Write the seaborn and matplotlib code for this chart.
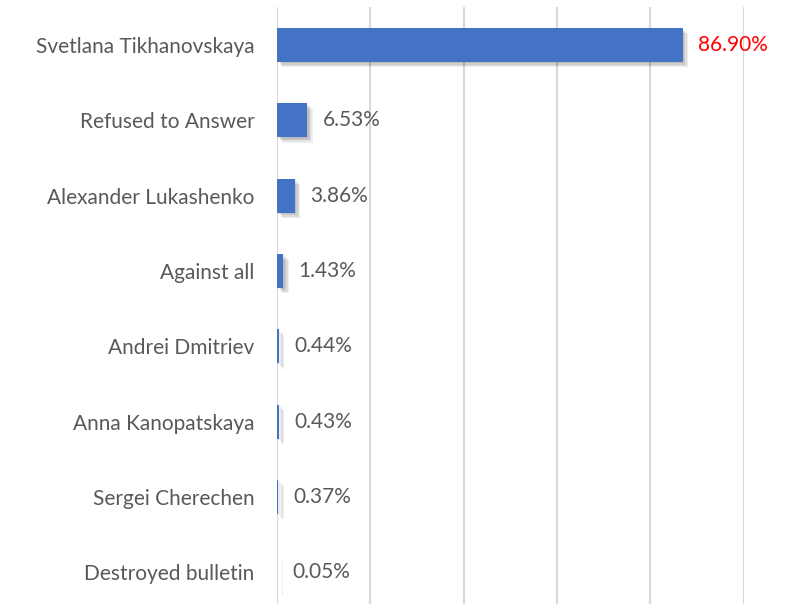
import matplotlib
matplotlib.use("Agg")
import matplotlib.pyplot as plt
import matplotlib.patheffects as pe
import seaborn as sns
import pandas as pd

# Datos
candidates = ["Svetlana Tikhanovskaya", "Refused to Answer", "Alexander Lukashenko",
              "Against all", "Andrei Dmitriev", "Anna Kanopatskaya",
              "Sergei Cherechen", "Destroyed bulletin"]
shares = [86.90, 6.53, 3.86, 1.43, 0.44, 0.43, 0.37, 0.05]
label_colors = ["red", "#595959", "#595959", "#595959", "#595959", "#595959", "#595959", "#595959"]

df = pd.DataFrame({"candidate": candidates, "share": shares})

sns.set_style("white")
plt.rcParams["font.family"] = ["Lato", "DejaVu Sans"]

fig = plt.figure(figsize=(7.93, 6.04), dpi=100)
ax = fig.add_axes([0.349, -0.0099, 0.589, 0.998])

sns.barplot(data=df, x="share", y="candidate", orient="h", color="#4472C4",
            saturation=1, width=0.45, linewidth=0, ax=ax, zorder=3)

# sombra suave debajo de las barras
shadow = [pe.SimplePatchShadow(offset=(o, -o), alpha=0.07, shadow_rgbFace="black")
          for o in (1, 2, 3, 4)]
for bar in ax.patches:
    bar.set_path_effects(shadow + [pe.Normal()])

for i, (v, c) in enumerate(zip(shares, label_colors)):
    ax.annotate(f"{v:.2f}%", xy=(v, i), xytext=(11, 0), textcoords="offset points",
                va="center", ha="left", fontsize=15, color=c)

ax.set_xlim(0, 100)
ax.set_xticks([0, 20, 40, 60, 80, 100])
ax.set_xticklabels([])
ax.grid(axis="x", color="#d9d9d9", linewidth=1.5, zorder=0)
ax.set_axisbelow(True)
ax.tick_params(axis="y", labelsize=15, labelcolor="#595959", length=0, pad=16)
ax.tick_params(axis="x", length=0)
ax.set_xlabel("")
ax.set_ylabel("")
for s in ax.spines.values():
    s.set_visible(False)

fig.savefig("out.png", dpi=100)
